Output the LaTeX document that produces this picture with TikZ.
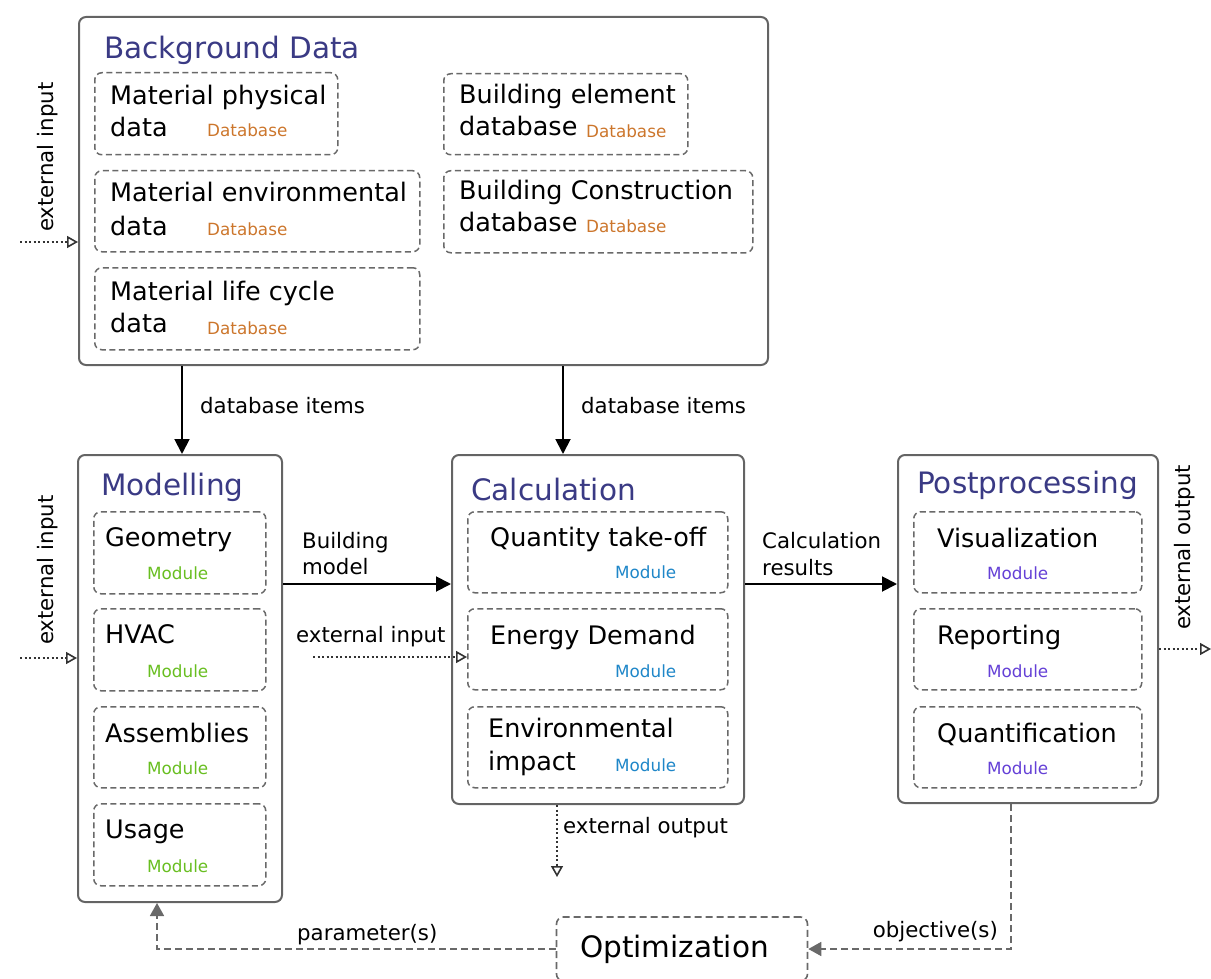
\documentclass[tikz,border=0pt]{standalone}
\usepackage{fontspec}
\setmainfont{DejaVu Sans}
\usetikzlibrary{arrows.meta}
\definecolor{ttlc}{RGB}{58,58,132}
\definecolor{dbc}{RGB}{204,118,44}
\definecolor{modg}{RGB}{104,190,32}
\definecolor{modb}{RGB}{30,134,200}
\definecolor{modp}{RGB}{100,64,214}
\definecolor{boxgray}{RGB}{100,100,100}
\definecolor{dashgray}{RGB}{105,105,105}
\begin{document}
\begin{tikzpicture}[x=1pt,y=-1pt,
  outerbox/.style={draw=boxgray, line width=2pt, rounded corners=7pt, anchor=north west, inner sep=0pt},
  innerbox/.style={draw=dashgray, line width=1.5pt, dash pattern=on 6pt off 3.5pt, rounded corners=7pt, anchor=north west, inner sep=0pt},
  ttl/.style={font=\fontsize{29.5}{34}\selectfont, text=ttlc, anchor=base west, inner sep=0pt},
  body/.style={font=\fontsize{25.5}{30}\selectfont, anchor=base west, inner sep=0pt},
  dbt/.style={font=\fontsize{16.8}{20}\selectfont, text=dbc, anchor=base west, inner sep=0pt},
  modt/.style={font=\fontsize{16.8}{20}\selectfont, anchor=base west, inner sep=0pt},
  lbl/.style={font=\fontsize{21.3}{25}\selectfont, anchor=base west, inner sep=0pt},
  solidarr/.style={line width=1.9pt, draw=black, -{Triangle[length=15pt,width=15pt]}},
  dotarr/.style={line width=1.6pt, draw=black!80, dash pattern=on 2pt off 2.5pt, -{Triangle[open,length=11pt,width=12pt,fill=white]}},
  grayarr/.style={line width=1.6pt, draw=dashgray, dash pattern=on 7pt off 4pt, -{Triangle[length=13pt,width=14pt]}},
]
\useasboundingbox (0,0) rectangle (1211,979);

% ---------- Background Data ----------
\node[outerbox, minimum width=689pt, minimum height=348pt] (bg) at (78,16) {};
\node[ttl] (bgt) at (104,59) {Background Data};
\node[innerbox, minimum width=243pt, minimum height=82pt] (b1) at (94,72) {};
\node[body] (b1a) at (110,105) {Material physical};
\node[body] (b1b) at (110,137) {data};
\node[dbt] (b1c) at (207,137) {Database};
\node[innerbox, minimum width=325pt, minimum height=81pt] (b2) at (94,170) {};
\node[body] (b2a) at (110,202) {Material environmental};
\node[body] (b2b) at (110,235) {data};
\node[dbt] (b2c) at (207,236) {Database};
\node[innerbox, minimum width=325pt, minimum height=82pt] (b3) at (94,267) {};
\node[body] (b3a) at (110,300) {Material life cycle};
\node[body] (b3b) at (110,332) {data};
\node[dbt] (b3c) at (207,334) {Database};
\node[innerbox, minimum width=244pt, minimum height=81pt] (b4) at (443,73) {};
\node[body] (b4a) at (459,104) {Building element};
\node[body] (b4b) at (459,136) {database};
\node[dbt] (b4c) at (586,138) {Database};
\node[innerbox, minimum width=309pt, minimum height=82pt] (b5) at (443,170) {};
\node[body] (b5a) at (459,200) {Building Construction};
\node[body] (b5b) at (459,232) {database};
\node[dbt] (b5c) at (586,233) {Database};

% ---------- Modelling ----------
\node[outerbox, minimum width=204pt, minimum height=447pt] (mod) at (77,454) {};
\node[ttl] (modt) at (101,495) {Modelling};
\node[innerbox, minimum width=172pt, minimum height=82pt] (m1) at (93,511) {};
\node[body] (m1a) at (105,546) {Geometry};
\node[modt, text=modg] (m1b) at (147,579) {Module};
\node[innerbox, minimum width=172pt, minimum height=82pt] (m2) at (93,608) {};
\node[body] (m2a) at (105,643) {HVAC};
\node[modt, text=modg] (m2b) at (147,677) {Module};
\node[innerbox, minimum width=172pt, minimum height=81pt] (m3) at (93,706) {};
\node[body] (m3a) at (105,742) {Assemblies};
\node[modt, text=modg] (m3b) at (147,774) {Module};
\node[innerbox, minimum width=172pt, minimum height=82pt] (m4) at (93,803) {};
\node[body] (m4a) at (105,838) {Usage};
\node[modt, text=modg] (m4b) at (147,872) {Module};

% ---------- Calculation ----------
\node[outerbox, minimum width=292pt, minimum height=349pt] (calc) at (451,454) {};
\node[ttl] (calct) at (471,500) {Calculation};
\node[innerbox, minimum width=260pt, minimum height=81pt] (c1) at (467,511) {};
\node[body] (c1a) at (490,546) {Quantity take-off};
\node[modt, text=modb] (c1b) at (615,578) {Module};
\node[innerbox, minimum width=260pt, minimum height=81pt] (c2) at (467,608) {};
\node[body] (c2a) at (490,644) {Energy Demand};
\node[modt, text=modb] (c2b) at (615,677) {Module};
\node[innerbox, minimum width=260pt, minimum height=81pt] (c3) at (467,706) {};
\node[body] (c3a) at (488,737) {Environmental};
\node[body] (c3b) at (488,770) {impact};
\node[modt, text=modb] (c3c) at (615,771) {Module};

% ---------- Postprocessing ----------
\node[outerbox, minimum width=260pt, minimum height=348pt] (post) at (897,454) {};
\node[ttl] (postt) at (917,493) {Postprocessing};
\node[innerbox, minimum width=228pt, minimum height=81pt] (p1) at (913,511) {};
\node[body] (p1a) at (937,547) {Visualization};
\node[modt, text=modp] (p1b) at (987,579) {Module};
\node[innerbox, minimum width=228pt, minimum height=81pt] (p2) at (913,608) {};
\node[body] (p2a) at (937,644) {Reporting};
\node[modt, text=modp] (p2b) at (987,677) {Module};
\node[innerbox, minimum width=228pt, minimum height=81pt] (p3) at (913,706) {};
\node[body] (p3a) at (937,742) {Quantification};
\node[modt, text=modp] (p3b) at (987,774) {Module};

% ---------- Optimization ----------
\node[draw=dashgray, line width=1.6pt, dash pattern=on 7pt off 4pt, rounded corners=7pt,
      minimum width=251pt, minimum height=64pt, inner sep=0pt] (opt) at (682,949) {};
\node[font=\fontsize{29.5}{34}\selectfont, anchor=base west, inner sep=0pt] (optt) at (580,957) {Optimization};

% ---------- helper coordinates ----------
\coordinate (xa) at (182,0);
\coordinate (xb) at (563,0);
\coordinate (ya) at (0,584);
\coordinate (eiA) at (20,242);
\coordinate (eiB) at (20,658);
\coordinate (eiC) at (313,657);
\coordinate (eoA) at (557,877);
\coordinate (eoB) at (1211,649);
\coordinate (yo) at (0,649);
\coordinate (xo) at (1011,0);
\coordinate (xp) at (157,0);
\coordinate (xe) at (557,0);

% ---------- connectors ----------
\draw[solidarr] (bg.south -| xa) -- (mod.north -| xa);
\draw[solidarr] (bg.south -| xb) -- (calc.north -| xb);
\draw[solidarr] (mod.east |- ya) -- (calc.west |- ya);
\draw[solidarr] (calc.east |- ya) -- (post.west |- ya);

\draw[dotarr] (eiA) -- (bg.west |- eiA);
\draw[dotarr] (eiB) -- (mod.west |- eiB);
\draw[dotarr] (eiC) -- (c2.west |- eiC);
\draw[dotarr] (calc.south -| xe) -- (eoA);
\draw[dotarr] (post.east |- yo) -- (eoB);

\draw[grayarr] (post.south -| xo) |- (opt.east);
\draw[grayarr] (opt.west) -| (mod.south -| xp);

% ---------- labels ----------
\node[lbl] (l1) at (200,413) {database items};
\node[lbl] (l2) at (581,413) {database items};
\node[lbl] (l3) at (302,548) {Building};
\node[lbl] (l4) at (302,574) {model};
\node[lbl] (l5) at (762,548) {Calculation};
\node[lbl] (l6) at (762,575) {results};
\node[lbl] (l7) at (296,642) {external input};
\node[lbl] (l8) at (563,833) {external output};
\node[lbl] (l9) at (297,940) {parameter(s)};
\node[lbl, anchor=base east] (l10) at (998,937) {objective(s)};
\node[lbl, rotate=90] (l11) at (53,232) {external input};
\node[lbl, rotate=90] (l12) at (53,645) {external input};
\node[lbl, rotate=90] (l13) at (1190,630) {external output};
\end{tikzpicture}
\end{document}
